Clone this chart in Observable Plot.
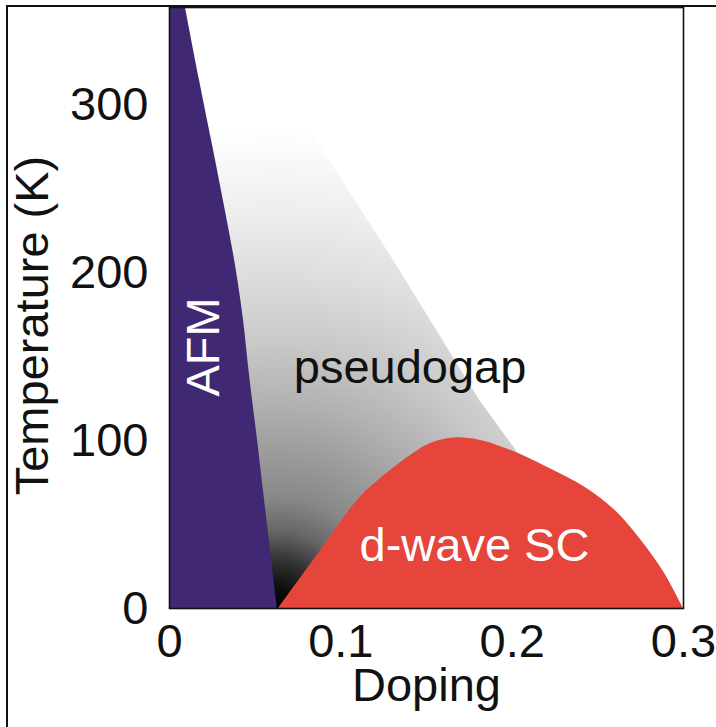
<!DOCTYPE html>
<html><head><meta charset="utf-8">
<script src="https://cdn.jsdelivr.net/npm/d3@7"></script>
<script src="https://cdn.jsdelivr.net/npm/@observablehq/plot@0.6"></script>
<style>
html,body{margin:0;padding:0;background:#fff;}
#wrap{position:relative;width:716px;height:727px;overflow:hidden;background:#fff;}
#box{position:absolute;left:6px;top:5px;width:800px;height:800px;border-left:2px solid #111;border-top:2px solid #111;pointer-events:none;}
</style></head><body><div id="wrap"><div id="box"></div></div>
<script>
// ---- data (doping, temperature in K) ----
const afmT = [0, 64.4, 100.1, 138.9, 171.6, 204.4, 240, 272.9, 314.7, 358];
const afmD = [0.0630, 0.0555, 0.0514, 0.0467, 0.0432, 0.0385, 0.0320, 0.0257, 0.0175, 0.0093];

const scD = [0.0636, 0.0870, 0.1097, 0.1232, 0.1424, 0.1524, 0.1658, 0.1816, 0.1991, 0.2207, 0.2429, 0.2600, 0.2750, 0.2880, 0.3000];
const scT = [0, 32.8, 64.4, 77.5, 92.4, 98.3, 101.6, 100.1, 94.2, 84.0, 72.0, 58.5, 41.0, 22.5, 0];

const tstarT = [0, 96, 124, 207, 358];
const tstarD = [0.261, 0.201, 0.181, 0.131, 0.036];

const xTicks = [0, 0.1, 0.2, 0.3];
const xTickLabels = ["0", "0.1", "0.2", "0.3"];
const yTicks = [0, 100, 200, 300];
const yTickLabels = ["0", "100", "200", "300"];

const regionNames = ["AFM", "pseudogap", "d-wave SC"];
const regionD = [0.0204, 0.1404, 0.178];
const regionT = [155.8, 143.4, 37.4];

const xTitle = "Doping";
const yTitle = "Temperature (K)";

// ---- styles ----
const PURPLE = "#402873";
const RED = "#e5453a";
const FONT = "'Liberation Sans', Arial, Helvetica, sans-serif";
const FS = 47;

const afm = afmT.map((T, i) => ({T, d: afmD[i]}));
const sc = scD.map((d, i) => ({d, T: scT[i]}));
const tstar = tstarT.map((T, i) => ({T, d: tstarD[i]}));
const regions = regionNames.map((name, i) => ({name, d: regionD[i], T: regionT[i]}));

const plot = Plot.plot({
  width: 716,
  height: 727,
  marginLeft: 169,
  marginRight: 33,
  marginTop: 7,
  marginBottom: 119,
  style: {fontFamily: FONT, fontSize: FS + "px", color: "#111", background: "transparent", overflow: "visible"},
  x: {domain: [0, 0.3]},
  y: {domain: [0, 358]},
  marks: [
    Plot.areaX(tstar, {x: "d", y: "T", fill: "url(#pg)"}),
    Plot.areaX(afm, {x: "d", y: "T", fill: PURPLE, curve: "catmull-rom"}),
    Plot.areaY(sc, {x: "d", y: "T", fill: RED, curve: "catmull-rom"}),
    Plot.text([regions[0]], {x: "d", y: "T", text: "name", fill: "white", rotate: -90, fontSize: FS, lineAnchor: "middle"}),
    Plot.text([regions[1]], {x: "d", y: "T", text: "name", fill: "#111", fontSize: FS, lineAnchor: "middle"}),
    Plot.text([regions[2]], {x: "d", y: "T", text: "name", fill: "white", fontSize: FS, lineAnchor: "middle"}),
    Plot.axisX({ticks: xTicks, tickSize: 0, tickPadding: 15, fontSize: FS, label: null,
      tickFormat: (v) => xTickLabels[xTicks.indexOf(v)]}),
    Plot.axisY({ticks: yTicks, tickSize: 0, tickPadding: 21, fontSize: FS, label: null,
      tickFormat: (v) => yTickLabels[yTicks.indexOf(v)]}),
    Plot.text([xTitle], {text: (d) => d, frameAnchor: "bottom", textAnchor: "middle", dy: 77, fontSize: FS, fill: "#111", lineAnchor: "middle"}),
    Plot.text([yTitle], {text: (d) => d, frameAnchor: "left", textAnchor: "middle", rotate: -90, dx: -137, dy: 17.5, fontSize: FS, fill: "#111", lineAnchor: "middle"}),
    Plot.frame({stroke: "#111", strokeWidth: 1.6})
  ]
});

// radial gradient for the pseudogap, centred on the bottom of the AFM boundary
const xs = plot.scale("x"), ys = plot.scale("y");
const cx = xs.apply(afmD[0]), cy = ys.apply(afmT[0]);
const stops = [[0, "#000"], [0.04, "#0c0c0c"], [0.1, "#333"], [0.16, "#666"], [0.23, "#888"], [0.42, "#b0b0b0"], [0.55, "#c8c8c8"], [0.7, "#dedede"], [0.85, "#f0f0f0"], [1, "#fff"]];
const defs = d3.select(plot).insert("defs", ":first-child");
const rg = defs.append("radialGradient").attr("id", "pg").attr("gradientUnits", "userSpaceOnUse")
  .attr("cx", cx).attr("cy", cy).attr("r", 480);
stops.forEach(([o, c]) => rg.append("stop").attr("offset", o).attr("stop-color", c));

const wrap = document.getElementById("wrap");
wrap.insertBefore(plot, wrap.firstChild);
</script>
</body></html>
